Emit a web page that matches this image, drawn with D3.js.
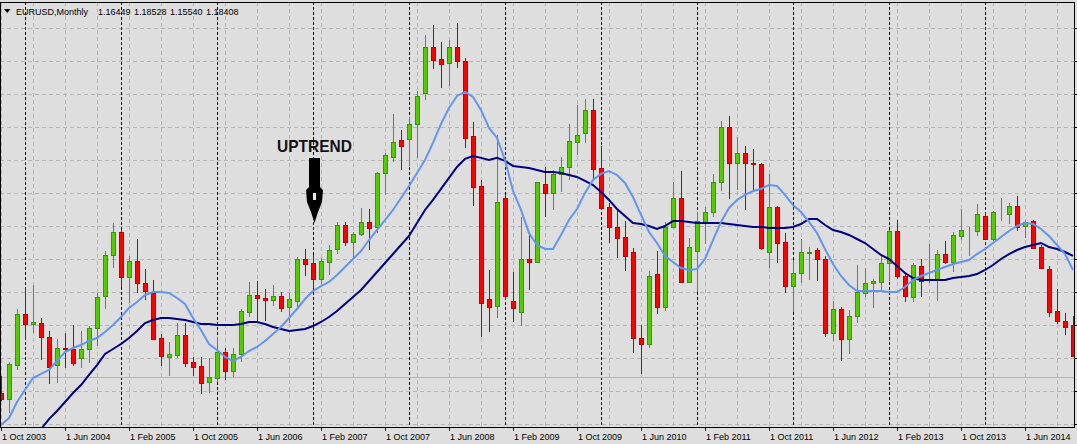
<!DOCTYPE html>
<html><head><meta charset="utf-8">
<script src="https://cdn.jsdelivr.net/npm/d3@7"></script>
<style>body{margin:0;background:#dedede;}svg{display:block;}</style>
</head><body><svg id="c" width="1077" height="444"></svg>
<script>
// ---- DATA (EURUSD monthly, bars from Oct 2003) ----
const startYear = 2003, startMonth = 9; // Oct 2003 (0-based month)
const open = [1.1655,1.1580,1.1980,1.2584,1.2473,1.2477,1.2315,1.1983,1.2185,1.2169,
1.2063,1.2169,1.2418,1.2804,1.3283,1.3556,1.3030,1.3216,1.2955,1.2840,
1.2300,1.2074,1.2102,1.2339,1.2022,1.1971,1.1778,1.1833,1.2141,1.1916,
1.2114,1.2615,1.2813,1.2777,1.2759,1.2798,1.2674,1.2745,1.3236,1.3192,
1.3006,1.3207,1.3361,1.3642,1.3444,1.3532,1.3674,1.3622,1.4262,1.4452,
1.4649,1.4658,1.4835,1.5203,1.5748,1.5606,1.5558,1.5748,1.5586,1.4697,
1.4104,1.2762,1.2686,1.3959,1.2742,1.2608,1.3236,1.3204,1.4124,1.4025,
1.4243,1.4326,1.4629,1.4729,1.5005,1.4314,1.3852,1.3622,1.3496,1.3319,
1.2300,1.2228,1.3058,1.2674,1.3622,1.3959,1.2970,1.3338,1.3681,1.3793,
1.4148,1.4800,1.4381,1.4492,1.4377,1.4361,1.3326,1.3852,1.3437,1.2923,
1.3070,1.3314,1.3346,1.3236,1.2359,1.2643,1.2288,1.2560,1.2833,1.2951,
1.2970,1.3195,1.3571,1.3041,1.2793,1.3156,1.2990,1.2999,1.3299,1.3200,
1.3515,1.3579,1.3575,1.3749,1.3473,1.3757,1.3769,1.3867,1.3630,1.3690,
1.3378,1.3117,1.2623,1.2505,1.2457];
const high = [1.1856,1.2022,1.2650,1.2892,1.2931,1.2537,1.2386,1.2288,1.2359,1.2457,
1.2386,1.2445,1.2833,1.3334,1.3662,1.3583,1.3275,1.3473,1.3121,1.2990,
1.2347,1.2252,1.2477,1.2477,1.2082,1.2082,1.2063,1.2319,1.2181,1.2188,
1.2643,1.2967,1.2973,1.2884,1.2928,1.2852,1.2836,1.3267,1.3354,1.3287,
1.3248,1.3405,1.3674,1.3674,1.3563,1.3840,1.3828,1.4274,1.4492,1.4954,
1.4768,1.4926,1.5230,1.5894,1.6012,1.5811,1.5834,1.6036,1.5618,1.4866,
1.4175,1.3109,1.4709,1.3998,1.3082,1.3733,1.3544,1.4155,1.4326,1.4294,
1.4444,1.4839,1.5064,1.5135,1.5135,1.4578,1.3899,1.3820,1.3690,1.3370,
1.2457,1.3097,1.3334,1.3681,1.4155,1.4282,1.3485,1.3800,1.3852,1.4247,
1.4875,1.4934,1.4689,1.4578,1.4539,1.4381,1.4247,1.3867,1.3544,1.3227,
1.3476,1.3385,1.3373,1.3275,1.2738,1.2671,1.2635,1.3168,1.3136,1.3002,
1.3278,1.3583,1.3701,1.3077,1.3188,1.3236,1.3413,1.3346,1.3453,1.3563,
1.3832,1.3622,1.3891,1.3788,1.3812,1.3959,1.3899,1.3989,1.3701,1.3701,
1.3405,1.3156,1.2884,1.2596,1.2564];
const low = [1.1557,1.1414,1.1924,1.2279,1.2359,1.2042,1.1754,1.1766,1.1944,1.1975,
1.1951,1.2010,1.2212,1.2643,1.3129,1.2911,1.2721,1.2840,1.2753,1.2279,
1.1975,1.1856,1.2066,1.1963,1.1853,1.1636,1.1648,1.1785,1.1805,1.1845,
1.2022,1.2556,1.2487,1.2499,1.2679,1.2615,1.2477,1.2674,1.3038,1.2892,
1.2943,1.3050,1.3299,1.3397,1.3255,1.3512,1.3346,1.3544,1.3998,1.4392,
1.4294,1.4345,1.4433,1.5123,1.5494,1.5269,1.5289,1.5506,1.4558,1.3871,
1.2319,1.2378,1.2537,1.2748,1.2496,1.2449,1.2872,1.3195,1.3741,1.3820,
1.4037,1.4175,1.4472,1.4618,1.4175,1.3820,1.3432,1.3255,1.3101,1.2129,
1.1873,1.2181,1.2584,1.2627,1.3603,1.2958,1.2958,1.2852,1.3417,1.3733,
1.4049,1.3950,1.4057,1.3820,1.4057,1.3346,1.3136,1.3195,1.2840,1.2615,
1.2958,1.2990,1.2979,1.2319,1.2270,1.2033,1.2117,1.2481,1.2793,1.2655,
1.2860,1.2979,1.2999,1.2733,1.2733,1.2785,1.2951,1.2745,1.3176,1.3089,
1.3464,1.3275,1.3512,1.3464,1.3453,1.3690,1.3651,1.3575,1.3492,1.3354,
1.3124,1.2556,1.2469,1.2339,1.2078];
const close = [1.1580,1.1992,1.2584,1.2465,1.2489,1.2311,1.1963,1.2181,1.2173,1.2010,
1.2169,1.2418,1.2785,1.3287,1.3556,1.3030,1.3216,1.2951,1.2864,1.2295,
1.2086,1.2110,1.2339,1.2007,1.1963,1.1773,1.1837,1.2134,1.1916,1.2114,
1.2627,1.2813,1.2783,1.2759,1.2798,1.2662,1.2763,1.3236,1.3184,1.3006,
1.3216,1.3342,1.3642,1.3444,1.3533,1.3674,1.3610,1.4255,1.4468,1.4629,
1.4582,1.4835,1.5171,1.5748,1.5601,1.5544,1.5748,1.5586,1.4670,1.4096,
1.2714,1.2674,1.3911,1.2801,1.2653,1.3236,1.3207,1.4148,1.4025,1.4243,
1.4326,1.4638,1.4709,1.5005,1.4302,1.3847,1.3622,1.3492,1.3278,1.2300,
1.2228,1.3041,1.2674,1.3622,1.3959,1.2970,1.3378,1.3690,1.3793,1.4148,
1.4800,1.4381,1.4492,1.4381,1.4361,1.3373,1.3852,1.3432,1.2923,1.3070,
1.3319,1.3326,1.3236,1.2359,1.2643,1.2294,1.2560,1.2845,1.2951,1.2979,
1.3188,1.3571,1.3041,1.2804,1.3165,1.2982,1.3008,1.3295,1.3207,1.3524,
1.3583,1.3587,1.3773,1.3476,1.3793,1.3764,1.3867,1.3622,1.3681,1.3373,
1.3129,1.2615,1.2508,1.2437,1.2090];
// fast moving average (light blue)
const maFast = [1.1272,1.1355,1.1545,1.1687,1.1829,1.1877,1.1924,1.2031,1.2137,1.2185,
1.2220,1.2268,1.2303,1.2374,1.2457,1.2552,1.2659,1.2730,1.2813,1.2848,
1.2848,1.2837,1.2777,1.2706,1.2540,1.2398,1.2232,1.2161,1.2078,1.2031,
1.2078,1.2149,1.2197,1.2268,1.2351,1.2434,1.2540,1.2647,1.2765,1.2860,
1.2919,1.2967,1.3050,1.3145,1.3239,1.3334,1.3464,1.3583,1.3701,1.3820,
1.3962,1.4104,1.4258,1.4412,1.4614,1.4839,1.5029,1.5171,1.5218,1.5159,
1.5005,1.4792,1.4673,1.4412,1.4045,1.3820,1.3548,1.3405,1.3358,1.3358,
1.3524,1.3701,1.3832,1.4022,1.4176,1.4247,1.4282,1.4235,1.4140,1.3974,
1.3761,1.3559,1.3429,1.3275,1.3204,1.3133,1.3109,1.3121,1.3239,1.3464,
1.3678,1.3844,1.3939,1.3998,1.4045,1.4069,1.4116,1.4104,1.3998,1.3879,
1.3796,1.3678,1.3548,1.3358,1.3180,1.3038,1.2931,1.2860,1.2860,1.2860,
1.2860,1.2848,1.2848,1.2907,1.2990,1.3038,1.3073,1.3109,1.3145,1.3180,
1.3204,1.3227,1.3298,1.3358,1.3429,1.3500,1.3571,1.3630,1.3666,1.3654,
1.3595,1.3512,1.3405,1.3298,1.3109];
// slow moving average (navy)
const maSlow = [null,null,null,null,null,1.1225,1.1343,1.1438,1.1545,1.1652,
1.1746,1.1865,1.1983,1.2114,1.2173,1.2232,1.2303,1.2386,1.2481,1.2516,
1.2540,1.2540,1.2528,1.2516,1.2493,1.2469,1.2469,1.2457,1.2457,1.2457,
1.2469,1.2493,1.2493,1.2469,1.2434,1.2410,1.2386,1.2398,1.2410,1.2445,
1.2493,1.2552,1.2623,1.2706,1.2789,1.2872,1.2979,1.3085,1.3192,1.3298,
1.3405,1.3512,1.3666,1.3820,1.3939,1.4069,1.4200,1.4330,1.4425,1.4460,
1.4437,1.4412,1.4437,1.4401,1.4342,1.4330,1.4318,1.4294,1.4271,1.4271,
1.4258,1.4235,1.4211,1.4164,1.4116,1.4033,1.3939,1.3832,1.3749,1.3666,
1.3654,1.3630,1.3595,1.3630,1.3690,1.3690,1.3678,1.3666,1.3666,1.3666,
1.3666,1.3654,1.3642,1.3630,1.3619,1.3619,1.3607,1.3607,1.3607,1.3619,
1.3654,1.3713,1.3713,1.3642,1.3583,1.3559,1.3524,1.3476,1.3429,1.3358,
1.3287,1.3239,1.3156,1.3073,1.3014,1.2990,1.2990,1.2990,1.2990,1.3014,
1.3026,1.3038,1.3061,1.3109,1.3168,1.3239,1.3298,1.3346,1.3381,1.3405,
1.3429,1.3381,1.3358,1.3322,1.3275];
const dateLabels = ["1 Oct 2003","1 Jun 2004","1 Feb 2005","1 Oct 2005","1 Jun 2006","1 Feb 2007",
"1 Oct 2007","1 Jun 2008","1 Feb 2009","1 Oct 2009","1 Jun 2010","1 Feb 2011","1 Oct 2011",
"1 Jun 2012","1 Feb 2013","1 Oct 2013","1 Jun 2014"];
const priceGrid = [1.5977,1.5586,1.5195,1.4804,1.4413,1.4022,1.3631,1.3240,1.2849,1.2458,1.2067,1.1676,1.1285];
const headerTitle = "EURUSD,Monthly";
const headerValues = ["1.16449","1.18528","1.15540","1.18408"];
const bidPrice = 1.18408;

// ---- DRAWING ----
const svg = d3.select("#c");
const W = 1077, H = 444;
const L = 0, R = 1075, T = 2, B = 427;
const n = open.length;
const x = d3.scaleLinear().domain([0, n - 1]).range([1, 1073]);
const y = d3.scaleLinear().domain([1.1237, 1.6284]).range([428, 2]);
const px = v => Math.round(v) + 0.5;

svg.append("rect").attr("width", W).attr("height", H).attr("fill", "#dedede");
svg.append("defs").append("clipPath").attr("id", "clip")
  .append("rect").attr("x", L).attr("y", T).attr("width", R - L).attr("height", B - T);

const g = svg.append("g").attr("clip-path", "url(#clip)");

// vertical grid (every 4 bars)
g.selectAll(".vg").data(d3.range(0, n, 4)).join("line")
  .attr("x1", d => px(x(d))).attr("x2", d => px(x(d)))
  .attr("y1", T).attr("y2", B)
  .attr("stroke", "#b6b6b6").attr("stroke-dasharray", "4,3");
// horizontal grid
g.selectAll(".hg").data(priceGrid).join("line")
  .attr("x1", L).attr("x2", R)
  .attr("y1", d => px(y(d))).attr("y2", d => px(y(d)))
  .attr("stroke", "#b6b6b6").attr("stroke-dasharray", "4,3");
// period separators (January of each year)
const janIdx = d3.range(n).filter(i => (startMonth + i) % 12 === 0);
g.selectAll(".sep").data(janIdx).join("line")
  .attr("x1", d => px(x(d))).attr("x2", d => px(x(d)))
  .attr("y1", T).attr("y2", B)
  .attr("stroke", "#000").attr("stroke-dasharray", "3,2");
// bid line
g.append("line").attr("x1", L).attr("x2", R)
  .attr("y1", px(y(bidPrice))).attr("y2", px(y(bidPrice)))
  .attr("stroke", "#b4b4b4");

// candles
const bars = d3.range(n).map(i => ({i, o: open[i], h: high[i], l: low[i], c: close[i]}));
const up = d => d.c >= d.o;
const cg = g.append("g");
cg.selectAll(".wick").data(bars).join("line")
  .attr("x1", d => px(x(d.i))).attr("x2", d => px(x(d.i)))
  .attr("y1", d => Math.round(y(d.h))).attr("y2", d => Math.round(y(d.l)))
  .attr("stroke", d => up(d) ? "#38a800" : "#b80000");
cg.selectAll(".body").data(bars).join("rect")
  .attr("x", d => Math.round(x(d.i)) - 1.5)
  .attr("y", d => Math.round(y(Math.max(d.o, d.c))) + 0.5)
  .attr("width", 4)
  .attr("height", d => Math.max(0, Math.round(y(Math.min(d.o, d.c))) - Math.round(y(Math.max(d.o, d.c)))))
  .attr("fill", d => up(d) ? "#55cc00" : "#ff0000")
  .attr("stroke", d => up(d) ? "#2f9a00" : "#c00000");

// moving averages
const lineGen = d3.line().defined(d => d != null).x((d, i) => x(i)).y(d => y(d));
g.append("path").datum(maSlow).attr("d", lineGen)
  .attr("fill", "none").attr("stroke", "#000080").attr("stroke-width", 2);
g.append("path").datum(maFast).attr("d", lineGen)
  .attr("fill", "none").attr("stroke", "#6495ed").attr("stroke-width", 2);

// frame
svg.append("rect").attr("x", L + 0.5).attr("y", T + 0.5).attr("width", R - L - 1).attr("height", B - T)
  .attr("fill", "none").attr("stroke", "#000");
// right ticks
svg.selectAll(".rt").data(priceGrid).join("line")
  .attr("x1", R - 0.5).attr("x2", W)
  .attr("y1", d => px(y(d))).attr("y2", d => px(y(d))).attr("stroke", "#000");

// bottom ticks and labels
const labIdx = dateLabels.map((d, k) => k * 8);
svg.selectAll(".bt").data(labIdx).join("line")
  .attr("x1", d => px(x(d))).attr("x2", d => px(x(d)))
  .attr("y1", B).attr("y2", B + 4).attr("stroke", "#000");
svg.selectAll(".bl").data(dateLabels).join("text")
  .attr("x", (d, k) => x(k * 8) + 1).attr("y", 440)
  .attr("font-family", "Liberation Sans, Arial, sans-serif").attr("font-size", 9)
  .attr("fill", "#000").text(d => d);

// header
svg.append("path").attr("d", "M4,9 L10.5,9 L7.25,13 Z").attr("fill", "#000");
svg.append("text").attr("x", 16).attr("y", 15)
  .attr("font-family", "Liberation Sans, Arial, sans-serif").attr("font-size", 9)
  .attr("fill", "#000").text(headerTitle);
svg.selectAll(".hv").data(headerValues).join("text")
  .attr("x", (d, k) => 98 + k * 36).attr("y", 15)
  .attr("font-family", "Liberation Sans, Arial, sans-serif").attr("font-size", 9)
  .attr("fill", "#000").text(d => d);

// annotation
svg.append("text").attr("x", 277).attr("y", 152)
  .attr("font-family", "Liberation Sans, Arial, sans-serif").attr("font-weight", "bold")
  .attr("font-size", 17).attr("textLength", 75).attr("lengthAdjust", "spacingAndGlyphs")
  .attr("fill", "#111").text("UPTREND");
svg.append("path")
  .attr("d", "M309,158 L320,158 L320,187 L323,190 L322,202 L318,212 L314.5,223 L311,212 L307,202 L306,190 L309,187 Z")
  .attr("fill", "#000");
svg.append("rect").attr("x", 313).attr("y", 193).attr("width", 3).attr("height", 7).attr("fill", "#e8e8e8");
</script></body></html>
